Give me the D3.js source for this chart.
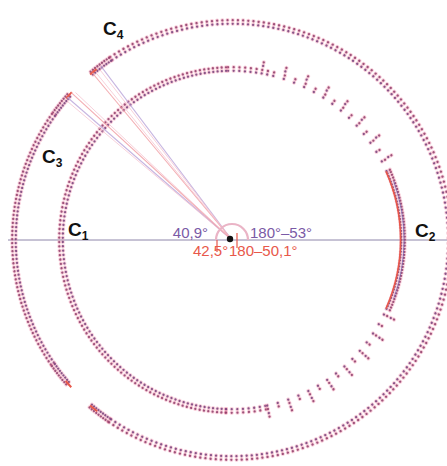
<!DOCTYPE html>
<html>
<head>
<meta charset="utf-8">
<script src="https://cdn.jsdelivr.net/npm/d3@7"></script>
<style>
  html, body { margin: 0; padding: 0; background: #fff; }
  svg { display: block; }
</style>
</head>
<body>
<svg id="chart" width="447" height="466"></svg>
<script>
// Radii of the two orbits, in units of the inner orbit
const orbitRadius = [1.0, 1.275];

// Dotted trajectory pieces: [orbit, start angle°, end angle°, angular spacing of samples°]
const innerTrack = [
  [0, -24, 24, 1.0],
  [0, 24, 78, 3.7],
  [0, 78, 92, 1.9],
  [0, 92, 268, 1.45],
  [0, 268, 282, 1.9],
  [0, 282, 336, 3.7]
];
// Second, slightly wider sampling on the fast side of the inner orbit
const innerEcho = [
  [1.045, 28, 80, 7.4],
  [1.045, 282, 334, 7.4]
];
const outerTrack = [
  [1, 138.5, 145, 0.75],
  [1, 145, 215, 1.05],
  [1, 215, 221.5, 0.75],
  [1, 229.6, 236, 0.75],
  [1, 236, 484, 1.35],
  [1, 484, 490.4, 0.75]
];
// Solid end markers of the outer arcs: [orbit, start°, end°]
const endMarks = [
  [1, 128.4, 130.6],
  [1, 137.3, 139.5],
  [1, 220.3, 222.5],
  [1, 229.4, 231.8]
];

// Measured directions of C3 and C4, as angle from the negative x axis
const rayLabels = ["40,9°", "42,5°", "180°–53°", "180–50,1°"];
const rayAngles = [40.9, 42.5, 53, 50.1];
const rayKind = ["a", "b", "a", "b"];

// Point labels
const pointNames = ["C", "C", "C", "C"];
const pointIndex = ["1", "2", "3", "4"];

const svg = d3.select("#chart");
const cx = 232, cy = 240;

const r = d3.scaleLinear().domain([0, 1]).range([0, 171]);
const rad = d3.scaleLinear().domain([0, 180]).range([0, Math.PI]);

const colA = "#7a5aa6";   // purple series
const colB = "#e8584a";   // red series

// open arc, counter-clockwise in mathematical angles
function arcPath(radius, a0, a1) {
  const p = d3.path();
  p.arc(cx, cy, radius, -rad(a0), -rad(a1), true);
  return p.toString();
}
function polar(radius, a) {
  return [cx + radius * Math.cos(rad(a)), cy - radius * Math.sin(rad(a))];
}

// horizontal axis through the centre
svg.append("line")
  .attr("x1", 8).attr("x2", 447)
  .attr("y1", cy).attr("y2", cy)
  .attr("stroke", "#8e86aa").attr("stroke-width", 1);

const gTracks = svg.append("g");

function drawDotted(radius, a0, a1, step) {
  // each sample is a pair of radially stacked points with a pink halo
  [-1.8, 1.8].forEach(off => {
    const R = radius + off;
    const period = rad(step) * R;
    const d = arcPath(R, a0, a1);
    gTracks.append("path")
      .attr("d", d)
      .attr("fill", "none")
      .attr("stroke", "#ee7a9c")
      .attr("stroke-width", 4.2)
      .attr("stroke-linecap", "round")
      .attr("stroke-dasharray", `0.01 ${period.toFixed(3)}`)
      .attr("stroke-opacity", 0.35);
    gTracks.append("path")
      .attr("d", d)
      .attr("fill", "none")
      .attr("stroke", off > 0 ? "#8e3c6a" : "#74407a")
      .attr("stroke-width", 2.3)
      .attr("stroke-linecap", "round")
      .attr("stroke-dasharray", `0.01 ${period.toFixed(3)}`)
      .attr("stroke-opacity", 0.85);
  });
}

innerTrack.concat(outerTrack).forEach(([o, a0, a1, s]) => {
  drawDotted(r(orbitRadius[o]), a0, a1, s);
});
innerEcho.forEach(([rr, a0, a1, s]) => drawDotted(r(rr), a0, a1, s));

// continuous red / blue traces where the inner orbit passes C2
svg.append("path")
  .attr("d", arcPath(r(orbitRadius[0]) - 2.4, -24, 24))
  .attr("fill", "none").attr("stroke", colB).attr("stroke-width", 1.6);
svg.append("path")
  .attr("d", arcPath(r(orbitRadius[0]) + 1.0, -20, 20))
  .attr("fill", "none").attr("stroke", "#5a58b0").attr("stroke-width", 1).attr("stroke-opacity", 0.6);

endMarks.forEach(([o, a0, a1]) => {
  svg.append("path")
    .attr("d", arcPath(r(orbitRadius[o]), a0, a1))
    .attr("fill", "none").attr("stroke", colB).attr("stroke-width", 2);
});

// rays from the centre to C3 and C4
const rayR = r(orbitRadius[1]);
rayAngles.forEach((a, i) => {
  const ang = 180 - a;
  const [x, y] = polar(rayR, ang);
  svg.append("line")
    .attr("x1", cx).attr("y1", cy).attr("x2", x).attr("y2", y)
    .attr("stroke", rayKind[i] === "a" ? "#b8a2d8" : "#f0989f")
    .attr("stroke-width", 1.1)
    .attr("stroke-opacity", 0.8);
  const [x2, y2] = polar(rayR - 3, ang + (rayKind[i] === "a" ? 0.8 : -0.8));
  svg.append("line")
    .attr("x1", cx).attr("y1", cy).attr("x2", x2).attr("y2", y2)
    .attr("stroke", "#f4bccb")
    .attr("stroke-width", 1)
    .attr("stroke-opacity", 0.7);
});

// angle marker around the centre
svg.append("path")
  .attr("d", arcPath(16, 0, 180))
  .attr("fill", "none").attr("stroke", "#eab4c6").attr("stroke-width", 2.2);
[[217, 240, 252], [237, 233, 248]].forEach(([x, y0, y1]) => {
  svg.append("line").attr("x1", x).attr("x2", x).attr("y1", y0).attr("y2", y1)
    .attr("stroke", colB).attr("stroke-width", 1.2);
});
svg.append("circle").attr("cx", cx - 2).attr("cy", cy - 1).attr("r", 3.2).attr("fill", "#111");

// angle values
const fontFam = "'Liberation Sans', Arial, sans-serif";
const labelPos = [
  { x: 208, y: 238, anchor: "end" },
  { x: 193, y: 256, anchor: "start" },
  { x: 250, y: 238, anchor: "start" },
  { x: 229, y: 256, anchor: "start" }
];
rayLabels.forEach((t, i) => {
  svg.append("text")
    .attr("x", labelPos[i].x).attr("y", labelPos[i].y)
    .attr("text-anchor", labelPos[i].anchor)
    .attr("font-family", fontFam).attr("font-size", 15)
    .attr("textLength", null)
    .attr("fill", rayKind[i] === "a" ? colA : colB)
    .text(t);
});

// point names
const namePos = [[68, 236], [415, 237], [42, 163], [103, 35]];
pointNames.forEach((n, i) => {
  const t = svg.append("text")
    .attr("x", namePos[i][0]).attr("y", namePos[i][1])
    .attr("font-family", fontFam).attr("font-size", 19)
    .attr("font-weight", "bold").attr("fill", "#111");
  t.append("tspan").text(n);
  t.append("tspan").attr("font-size", 12).attr("dy", 4).text(pointIndex[i]);
});
</script>
</body>
</html>
